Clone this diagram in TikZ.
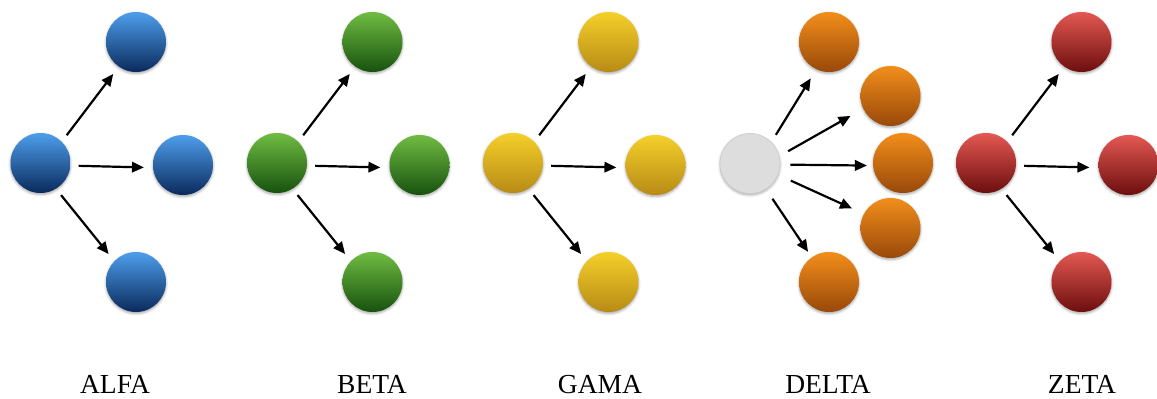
\documentclass[tikz,border=0pt]{standalone}
\usepackage{fontspec}
\setmainfont{Liberation Serif}
\usetikzlibrary{arrows.meta,shadows.blur}

% ball shading: light top, dark bottom
\definecolor{bluT}{RGB}{78,158,236}
\definecolor{bluB}{RGB}{10,42,92}
\definecolor{grnT}{RGB}{112,188,66}
\definecolor{grnB}{RGB}{22,82,14}
\definecolor{ylwT}{RGB}{244,208,42}
\definecolor{ylwB}{RGB}{184,138,22}
\definecolor{ornT}{RGB}{242,142,26}
\definecolor{ornB}{RGB}{152,72,10}
\definecolor{redT}{RGB}{228,88,82}
\definecolor{redB}{RGB}{108,14,14}
\definecolor{gryF}{RGB}{221,221,221}
\definecolor{gryD}{RGB}{204,204,204}

\begin{document}
\begin{tikzpicture}[x=1pt,y=-1pt,
  ball/.style={circle,minimum size=60pt,inner sep=0pt,
    blur shadow={shadow xshift=0pt,shadow yshift=-1.5pt,shadow blur radius=2.5pt,shadow opacity=35}},
  link/.style={line width=2.2pt,-{Triangle[length=12pt,width=10.5pt]},shorten <=8pt,shorten >=9pt},
  tag/.style={anchor=base,font=\fontsize{27.5}{30}\selectfont}]
\useasboundingbox (0,0) rectangle (1157,399);

% groups with one source and three targets
\foreach \n/\x/\c/\lx/\lab in {a/40.5/blu/115/ALFA, b/277/grn/372/BETA, c/513/ylw/600/GAMA, e/986/red/1082/ZETA}{
  \node[ball,top color=\c T,bottom color=\c B] (\n-s) at (\x,163) {};
  \node[ball,top color=\c T,bottom color=\c B] (\n-t) at ({\x+95.5},42) {};
  \node[ball,top color=\c T,bottom color=\c B] (\n-m) at ({\x+142.5},165) {};
  \node[ball,top color=\c T,bottom color=\c B] (\n-b) at ({\x+95.5},282) {};
  \draw[link] (\n-s.45) -- (\n-t.235);
  \draw[link] (\n-s.-5) -- (\n-m.185);
  \draw[link] (\n-s.-59) -- (\n-b.136);
  \node[tag] (\n-l) at (\lx,393) {\lab};
}

% fan-out group with five targets
\node[ball,fill=gryF,draw=gryD,line width=0.6pt] (d-s) at (750,163.5) {};
\node[ball,top color=ornT,bottom color=ornB] (d-1) at (829,42) {};
\node[ball,top color=ornT,bottom color=ornB] (d-2) at (890.5,96) {};
\node[ball,top color=ornT,bottom color=ornB] (d-3) at (903,163) {};
\node[ball,top color=ornT,bottom color=ornB] (d-4) at (890.5,228) {};
\node[ball,top color=ornT,bottom color=ornB] (d-5) at (829,282) {};
\draw[link,shorten <=8.5pt,shorten >=10.5pt] (d-s.45) -- (d-1.245);
\draw[link,shorten <=10pt,shorten >=14.5pt] (d-s.14) -- (d-2.205);
\draw[link,shorten <=10pt,shorten >=6pt] (d-s.-2) -- (d-3.185);
\draw[link,shorten <=14pt,shorten >=13pt] (d-s.-22) -- (d-4.152);
\draw[link,shorten <=11.5pt,shorten >=6.5pt] (d-s.-58) -- (d-5.125);
\node[tag] (d-l) at (828,393) {DELTA};
\end{tikzpicture}
\end{document}
